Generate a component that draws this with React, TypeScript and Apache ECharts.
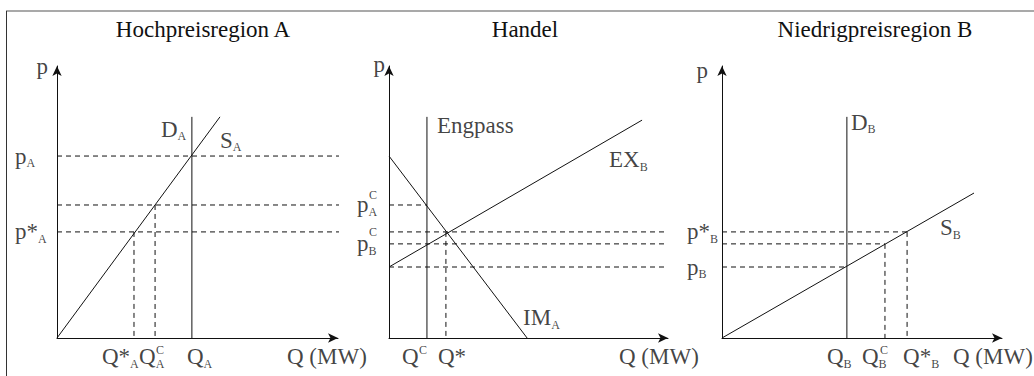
import React, { useEffect, useRef } from 'react';
import * as echarts from 'echarts';

const FONT = '"Liberation Serif", "Times New Roman", serif';
const INK = '#111111';

// Shared price levels (same vertical scale in all three panels)
const P_A = 66.9;    // p_A
const P_CA = 48.9;   // p^C_A
const P_STAR = 39.0; // p*
const P_CB = 34.6;   // p^C_B
const P_B = 26.1;    // p_B
const TOP = 81.3;    // upper end of vertical curves

// Quantities
const qA = [27.4, 34.9, 48.0];   // Q*_A, Q^C_A, Q_A
const qTrade = [13.6, 20.4];     // Q^C (Engpass), Q*
const qB = [44.6, 58.2, 66.1];   // Q_B, Q^C_B, Q*_B

// Curves
const supplyA = [[0, 0], [58.0, TOP]];
const importA = [[0, P_A], [49.5, 0]];
const exportB = [[0, P_B], [90.7, 80.1]];
const supplyB = [[0, 0], [90.0, 53.3]];

// Dashed guide extents (x end values)
const pAEndA = 118.1;   // p_A line runs across into the trade panel
const guideEndA = 102.8;
const guideEndTrade = 100;

const titles = ['Hochpreisregion A', 'Handel', 'Niedrigpreisregion B'];

const rich: any = {
  m: { fontSize: 23, fontFamily: FONT, color: INK, lineHeight: 23 },
  s: { fontSize: 12, fontFamily: FONT, color: INK, lineHeight: 26, verticalAlign: 'bottom' },
  c: { fontSize: 12, fontFamily: FONT, color: INK, lineHeight: 12 },
};

export default function App() {
  const ref = useRef<HTMLDivElement>(null);

  useEffect(() => {
    document.body.style.margin = '0';
    if (!ref.current) return;
    const chart = echarts.init(ref.current, undefined, { renderer: 'svg' });

    const grids = [
      { left: 57, top: 66, width: 281, height: 272 },
      { left: 389, top: 66, width: 279, height: 272 },
      { left: 722, top: 66, width: 280, height: 272 },
    ];

    const axisBase = (i: number) => ({
      type: 'value',
      gridIndex: i,
      min: 0,
      max: 100,
      axisLine: {
        show: true,
        onZero: false,
        symbol: ['none', 'arrow'],
        symbolSize: [7, 10],
        lineStyle: { color: INK, width: 1 },
      },
      axisTick: { show: false },
      axisLabel: { show: false },
      splitLine: { show: false },
    });

    const solid = (g: number, data: number[][]) => ({
      type: 'line', xAxisIndex: g, yAxisIndex: g, data, symbol: 'none', clip: false, silent: true,
      lineStyle: { color: INK, width: 1 },
    });
    const dashed = (g: number, data: number[][]) => ({
      type: 'line', xAxisIndex: g, yAxisIndex: g, data, symbol: 'none', clip: false, silent: true,
      lineStyle: { color: INK, width: 1, type: [5, 4] },
    });

    const L = (txt: string, value: number[], dx: number, dy: number, align = 'left') => ({
      value, txt,
      label: { show: true, position: 'inside', offset: [dx, dy], align, verticalAlign: 'middle' },
    });

    const labels: any[][] = [
      [
        L('{m|p}', [0, 100], -9, 0, 'right'),
        L('{m|p}{s|A}', [0, P_A], -42, 0),
        L('{m|p*}{s|A}', [0, P_STAR], -42, 0),
        L('{m|D}{s|A}', [qA[2], TOP], -31, 12.6),
        L('{m|S}{s|A}', supplyA[1], 0, 23.6),
        L('{m|Q*}{s|A}', [qA[0], 0], -32, 18.6),
        L('{m|Q}{s|A}', [qA[1], 0], -16, 18.6),
        L('{c|C}', [qA[1], 0], 1, 12),
        L('{m|Q}{s|A}', [qA[2], 0], -5, 18.6),
        L('{m|Q (MW)}', [100, 0], -51, 18.6),
      ],
      [
        L('{m|p}', [0, 100], -4, -2, 'right'),
        L('{m|Engpass}', [qTrade[0], TOP], 10, 8.6),
        L('{m|EX}{s|B}', exportB[1], -33, 39.6),
        L('{m|IM}{s|A}', importA[1], -4, -20.4),
        L('{m|p}{s|A}', [0, P_CA], -32, 0),
        L('{c|C}', [0, P_CA], -20, -10.4),
        L('{m|p}{s|B}', [0, P_CB], -32, 0),
        L('{c|C}', [0, P_CB], -20, -11.4),
        L('{m|Q}', [qTrade[0], 0], -25, 18.6),
        L('{c|C}', [qTrade[0], 0], -8, 12),
        L('{m|Q*}', [qTrade[1], 0], -8, 18.6),
        L('{m|Q (MW)}', [100, 0], -49, 18.6),
      ],
      [
        L('{m|p}', [0, 100], -14, 4, 'right'),
        L('{m|D}{s|B}', [qB[0], TOP], 4, 5.6),
        L('{m|S}{s|B}', supplyB[1], -34, 34.6),
        L('{m|p*}{s|B}', [0, P_STAR], -35, 0),
        L('{m|p}{s|B}', [0, P_B], -35, 0),
        L('{m|Q}{s|B}', [qB[0], 0], -20, 18.6),
        L('{m|Q}{s|B}', [qB[1], 0], -23, 18.6),
        L('{c|C}', [qB[1], 0], -5, 12),
        L('{m|Q*}{s|B}', [qB[2], 0], -4, 18.6),
        L('{m|Q (MW)}', [100, 0], -49, 18.6),
      ],
    ];

    const labelSeries = labels.map((data, g) => ({
      type: 'scatter', xAxisIndex: g, yAxisIndex: g, data, symbolSize: 1, clip: false, silent: true,
      itemStyle: { color: 'rgba(0,0,0,0)' },
      label: { show: true, formatter: (p: any) => p.data.txt, rich },
    }));

    const series: any[] = [
      // Panel A
      solid(0, supplyA),
      solid(0, [[qA[2], 0], [qA[2], TOP]]),
      dashed(0, [[0, P_A], [pAEndA, P_A]]),
      dashed(0, [[0, P_CA], [guideEndA, P_CA]]),
      dashed(0, [[0, P_STAR], [guideEndA, P_STAR]]),
      dashed(0, [[qA[0], P_STAR], [qA[0], 0]]),
      dashed(0, [[qA[1], P_CA], [qA[1], 0]]),
      // Trade panel
      solid(1, [[qTrade[0], 0], [qTrade[0], TOP]]),
      solid(1, importA),
      solid(1, exportB),
      dashed(1, [[0, P_CA], [qTrade[0], P_CA]]),
      dashed(1, [[0, P_STAR], [guideEndTrade, P_STAR]]),
      dashed(1, [[0, P_CB], [guideEndTrade, P_CB]]),
      dashed(1, [[0, P_B], [guideEndTrade, P_B]]),
      dashed(1, [[qTrade[1], P_STAR], [qTrade[1], 0]]),
      // Panel B
      solid(2, [[qB[0], 0], [qB[0], TOP]]),
      solid(2, supplyB),
      dashed(2, [[0, P_STAR], [qB[2], P_STAR]]),
      dashed(2, [[0, P_CB], [qB[1], P_CB]]),
      dashed(2, [[0, P_B], [qB[0], P_B]]),
      dashed(2, [[qB[1], P_CB], [qB[1], 0]]),
      dashed(2, [[qB[2], P_STAR], [qB[2], 0]]),
      ...labelSeries,
    ];

    const titleX = [203, 525, 875];

    chart.setOption({
      animation: false,
      backgroundColor: '#ffffff',
      grid: grids,
      xAxis: grids.map((_, i) => axisBase(i)),
      yAxis: grids.map((_, i) => axisBase(i)),
      series,
      graphic: [
        { type: 'line', shape: { x1: 6, y1: 11, x2: 1034, y2: 11 }, style: { stroke: '#8c8c8c', lineWidth: 1.5 }, silent: true },
        { type: 'line', shape: { x1: 6.5, y1: 11, x2: 6.5, y2: 376 }, style: { stroke: '#333333', lineWidth: 1 }, silent: true },
        ...titles.map((t, i) => ({
          type: 'text', x: titleX[i], y: 29.6, silent: true,
          style: {
            text: t, fontSize: 23, fontFamily: FONT, fill: INK,
            align: 'center', verticalAlign: 'middle', textAlign: 'center', textVerticalAlign: 'middle',
          },
        })),
      ],
    });

    return () => chart.dispose();
  }, []);

  return <div ref={ref} style={{ width: 1034, height: 376 }} />;
}
